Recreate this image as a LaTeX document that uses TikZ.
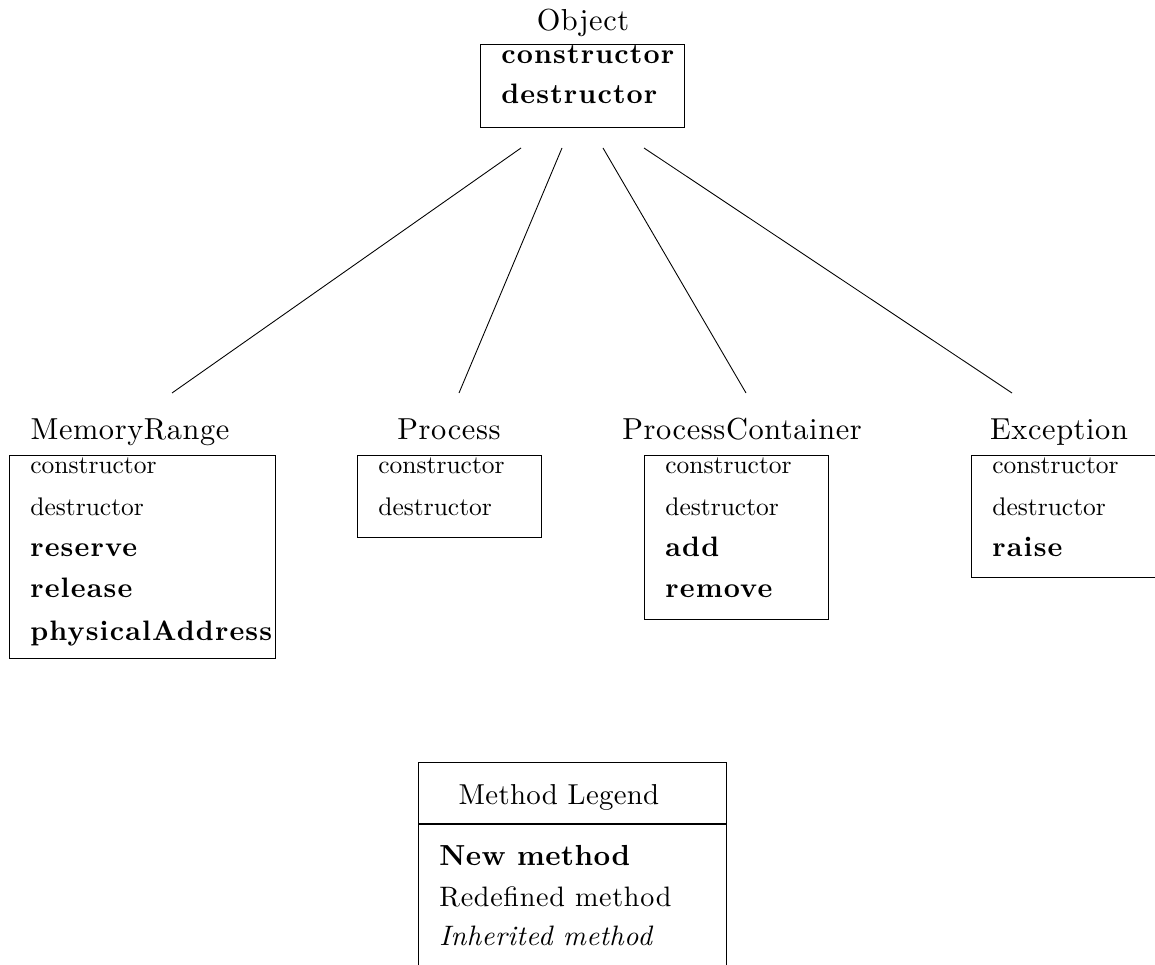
\documentclass[tikz,border=0pt]{standalone}
\usepackage{fontspec}
\setmainfont{lmroman10}[Extension=.otf, UprightFont=*-regular, BoldFont=*-bold, ItalicFont=*-italic, BoldItalicFont=*-bolditalic]
\usepackage{tikz}

\newcommand\spaced[1]{\addfontfeature{LetterSpace=#1}}

\tikzset{
  classname/.style={font=\fontsize{17.28}{20}\selectfont\spaced{2}, inner sep=0pt, anchor=base},
  method/.style={font=\fontsize{14.5}{17}\selectfont, inner sep=0pt, anchor=base west},
  newmethod/.style={font=\fontsize{16}{19}\selectfont\bfseries\spaced{4}, inner sep=0pt, anchor=base west},
  classbox/.style={draw, line width=0.6pt, inner sep=0pt, anchor=north west},
  link/.style={line width=0.5pt}
}

\begin{document}
\begin{tikzpicture}
                            \clip (0,0) rectangle (23.100000,19.280000);
                            
                            % Drawing class Object
                            \node [classname] (object-name) at (11.660000,18.660000) {Object};%
                            \node [classbox, minimum width=4.080000cm, minimum height=1.660000cm] (object) at (9.600000,18.400000) {};%
                            \node [newmethod] (object-m1) at (10.020000,18.000000) {constructor};%
                            \node [newmethod] (object-m2) at (10.020000,17.200000) {destructor};%
                            
                            % Drawing class MemoryRange
                            \node [classname] (memrange-name) at (2.600000,10.480000) {MemoryRange};%
                            \node [classbox, minimum width=5.320000cm, minimum height=4.060000cm] (memrange) at (0.180000,10.180000) {};%
                            \node [method] (memrange-m1) at (0.600000,9.800000) {constructor};%
                            \node [method] (memrange-m2) at (0.600000,8.960000) {destructor};%
                            \node [newmethod] (memrange-m3) at (0.600000,8.140000) {reserve};%
                            \node [newmethod] (memrange-m4) at (0.600000,7.320000) {release};%
                            \node [newmethod] (memrange-m5) at (0.600000,6.480000) {physicalAddress};%
                            
                            % Drawing class Process
                            \node [classname] (process-name) at (8.980000,10.480000) {Process};%
                            \node [classbox, minimum width=3.680000cm, minimum height=1.640000cm] (process) at (7.140000,10.180000) {};%
                            \node [method] (process-m1) at (7.560000,9.800000) {constructor};%
                            \node [method] (process-m2) at (7.560000,8.960000) {destructor};%
                            
                            % Drawing class ProcessContainer
                            \node [classname] (container-name) at (14.840000,10.480000) {ProcessContainer};%
                            \node [classbox, minimum width=3.680000cm, minimum height=3.280000cm] (container) at (12.880000,10.180000) {};%
                            \node [method] (container-m1) at (13.300000,9.800000) {constructor};%
                            \node [method] (container-m2) at (13.300000,8.960000) {destructor};%
                            \node [newmethod] (container-m3) at (13.300000,8.140000) {add};%
                            \node [newmethod] (container-m4) at (13.300000,7.320000) {remove};%
                            
                            % Drawing class Exception
                            \node [classname] (exception-name) at (21.180000,10.480000) {Exception};%
                            \node [classbox, minimum width=3.980000cm, minimum height=2.440000cm] (exception) at (19.420000,10.180000) {};%
                            \node [method] (exception-m1) at (19.840000,9.800000) {constructor};%
                            \node [method] (exception-m2) at (19.840000,8.960000) {destructor};%
                            \node [newmethod] (exception-m3) at (19.840000,8.140000) {raise};%
                            
                            % Marking link end points
                            \coordinate (object-l1) at (10.420000,16.320000);%
                            \coordinate (object-l2) at (11.240000,16.320000);%
                            \coordinate (object-l3) at (12.060000,16.320000);%
                            \coordinate (object-l4) at (12.880000,16.320000);%
                            \coordinate (memrange-l) at (3.440000,11.420000);%
                            \coordinate (process-l) at (9.180000,11.420000);%
                            \coordinate (container-l) at (14.920000,11.420000);%
                            \coordinate (exception-l) at (20.240000,11.420000);%
                            
                            % Drawing links Object to subclasses
                            \draw [link] (object-l1) -- (memrange-l);%
                            \draw [link] (object-l2) -- (process-l);%
                            \draw [link] (object-l3) -- (container-l);%
                            \draw [link] (object-l4) -- (exception-l);%
                            
                            % Drawing legend
                            \node [classbox, minimum width=6.160000cm, minimum height=4.760000cm] (legend) at (8.360000,4.040000) {};%
                            \coordinate (legend-w) at (8.360000,2.800000);%
                            \coordinate (legend-e) at (14.520000,2.800000);%
                            \draw [line width=0.6pt] (legend-w) -- (legend-e);%
                            \node [font=\fontsize{16.4}{19}\selectfont\spaced{1}, inner sep=0pt, anchor=base] (legend-name) at (11.180000,3.200000) {Method Legend};%
                            \node [newmethod, font=\fontsize{16.5}{19}\selectfont\bfseries\spaced{1.5}] (legend-new) at (8.780000,1.980000) {New method};%
                            \node [method, font=\fontsize{16}{19}\selectfont\spaced{2.5}] (legend-redef) at (8.780000,1.160000) {Redefined method};%
                            \node [method, font=\fontsize{16}{19}\selectfont\itshape\spaced{1.5}] (legend-inh) at (8.780000,0.380000) {Inherited method};%
                        \end{tikzpicture}
\end{document}
